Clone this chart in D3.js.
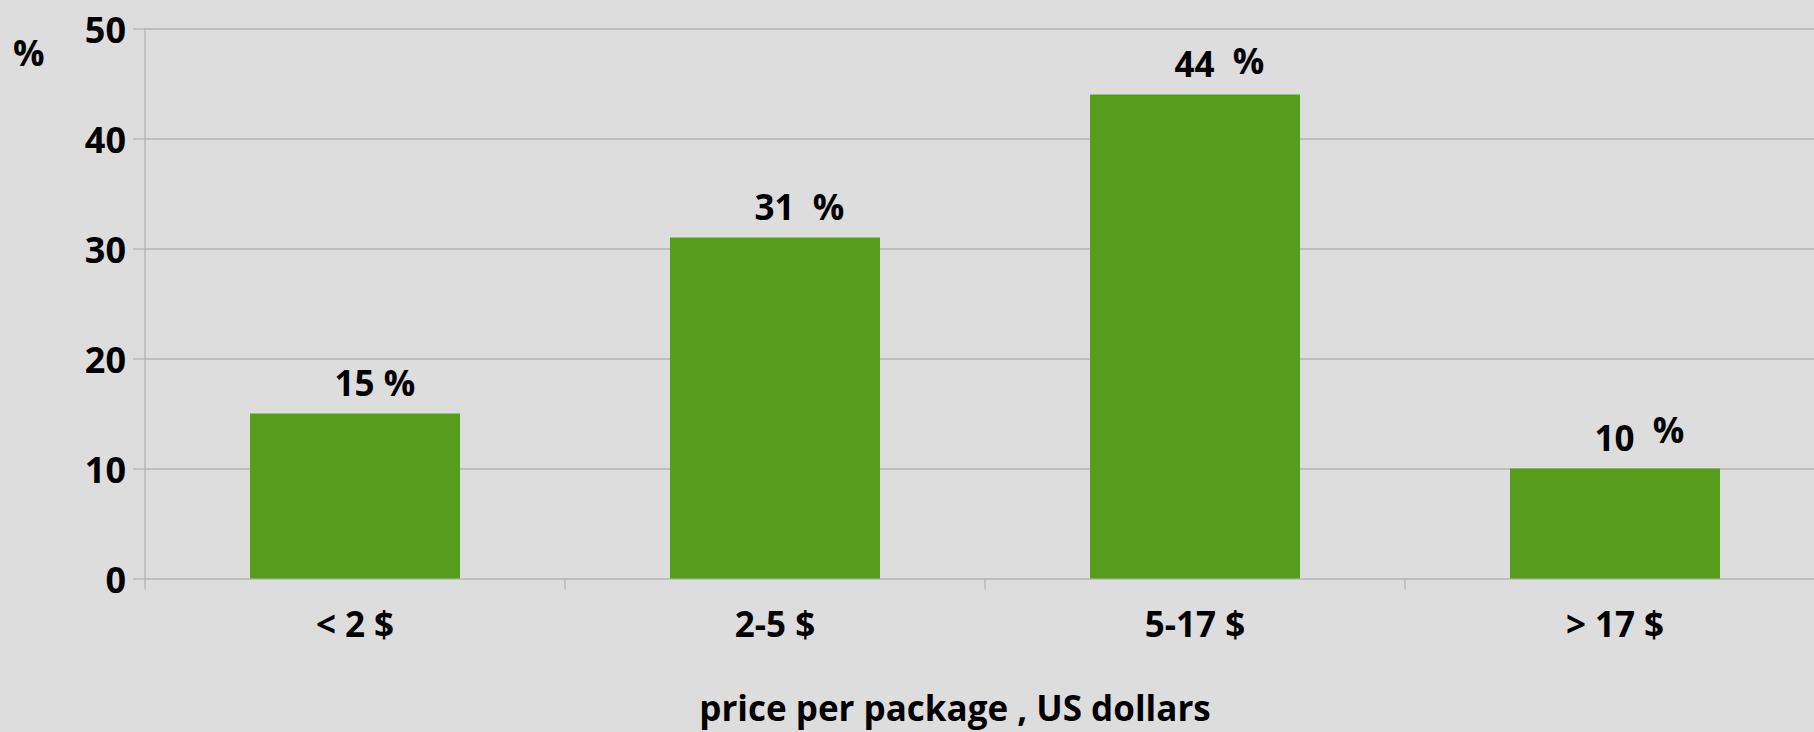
<!DOCTYPE html>
<html>
<head>
<meta charset="utf-8">
<script src="https://cdn.jsdelivr.net/npm/d3@7"></script>
<style>
  html, body { margin: 0; padding: 0; background: #dddddd; }
  svg { display: block; }
  text { font-family: "Open Sans", "DejaVu Sans", sans-serif; font-weight: 700; fill: #000; }
</style>
</head>
<body>
<svg id="chart" width="1814" height="732"></svg>
<script>
// ---- data ----
const categories = ["< 2 $", "2-5 $", "5-17 $", "> 17 $"];
const values = [15, 31, 44, 10];
const valueLabels = ["15", "31", "44", "10"];
const labelGaps = [" ", "  ", "  ", "  "];
const yTicks = [0, 10, 20, 30, 40, 50];
const yUnit = "%";
const xTitle = "price per package , US dollars";

// ---- layout / style ----
const W = 1814, H = 732;
const plotLeft = 145, bandStep = 420, plotTop = 28.5, plotBottom = 578.5;
const gridColor = "#b3b3b3";
const barColor = "#579d1c";
const fontSize = 35;
const pctRaise = [0, 0, 3, 8];

const svg = d3.select("#chart");
svg.append("rect").attr("width", W).attr("height", H).attr("fill", "#dddddd");

const x = d3.scaleBand()
  .domain(categories)
  .range([plotLeft, plotLeft + bandStep * categories.length])
  .paddingInner(0.5)
  .paddingOuter(0.25);

const y = d3.scaleLinear().domain([0, 50]).range([plotBottom, plotTop]);

// gridlines + y ticks
const yAxis = d3.axisLeft(y).tickValues(yTicks).tickSize(12).tickPadding(7);
const gy = svg.append("g").attr("transform", `translate(${plotLeft},0)`).call(yAxis);
gy.select(".domain").remove();
gy.selectAll(".tick line").attr("stroke", gridColor).attr("stroke-width", 1.3);
gy.selectAll(".tick text")
  .attr("font-size", 36)
  .attr("dy", "0.4em");
gy.attr("font-family", null).attr("font-size", null);
gy.selectAll(".tick").append("line")
  .attr("x1", 0).attr("x2", W - plotLeft)
  .attr("stroke", gridColor).attr("stroke-width", 1.3);

// vertical axis line
svg.append("line")
  .attr("x1", plotLeft).attr("x2", plotLeft)
  .attr("y1", plotTop).attr("y2", plotBottom + 11)
  .attr("stroke", gridColor).attr("stroke-width", 1.3);

// x axis tick marks at band boundaries
const boundaries = categories.map(c => x(c) - x.step() * x.paddingOuter()).slice(1);
svg.selectAll("line.xtick").data(boundaries).enter().append("line")
  .attr("class", "xtick")
  .attr("x1", d => d).attr("x2", d => d)
  .attr("y1", plotBottom).attr("y2", plotBottom + 11)
  .attr("stroke", gridColor).attr("stroke-width", 1.3);

// bars
svg.selectAll("rect.bar").data(values).enter().append("rect")
  .attr("class", "bar")
  .attr("x", (d, i) => x(categories[i]))
  .attr("y", d => y(d))
  .attr("width", x.bandwidth())
  .attr("height", d => y(0) - y(d))
  .attr("fill", barColor);

// value labels
const lab = svg.selectAll("text.vlab").data(values).enter().append("text")
  .attr("class", "vlab")
  .attr("font-size", fontSize)
  .style("white-space", "pre")
  .attr("x", (d, i) => x(categories[i]) + x.bandwidth() / 2 - 20.5)
  .attr("y", d => y(d) - 18);
lab.append("tspan").text((d, i) => valueLabels[i] + labelGaps[i]);
lab.append("tspan").attr("dy", (d, i) => -pctRaise[i]).text("%");

// category labels
svg.selectAll("text.cat").data(categories).enter().append("text")
  .attr("class", "cat")
  .attr("font-size", fontSize)
  .attr("text-anchor", "middle")
  .attr("x", d => x(d) + x.bandwidth() / 2)
  .attr("y", 637)
  .text(d => d);

// y unit label
svg.append("text")
  .attr("font-size", fontSize)
  .attr("x", 13).attr("y", 66)
  .text(yUnit);

// x title
svg.append("text")
  .attr("font-size", fontSize)
  .attr("text-anchor", "middle")
  .attr("x", 955).attr("y", 721)
  .text(xTitle);
</script>
</body>
</html>
